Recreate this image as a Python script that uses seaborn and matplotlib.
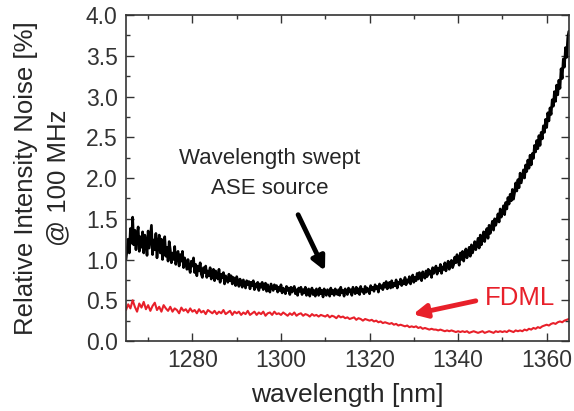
import matplotlib
matplotlib.use("Agg")
import matplotlib.pyplot as plt
from matplotlib.ticker import MultipleLocator, FormatStrFormatter
import seaborn as sns
import numpy as np
import pandas as pd

# wavelength grids [nm]
wl_ase = np.arange(1265.0, 1365.001, 0.25)
wl_fdml = np.arange(1265.0, 1365.001, 0.5)

# relative intensity noise [%] (ASE, 0.25 nm steps)
rin_ase = [
    1.00, 1.12, 1.25, 1.08, 1.38, 1.20, 1.52, 1.18,
    1.36, 1.12, 1.30, 1.40, 1.10, 1.28, 1.15, 1.34,
    1.08, 1.30, 1.22, 1.05, 1.35, 1.14, 1.28, 1.42,
    1.06, 1.24, 1.12, 1.32, 1.02, 1.20, 1.30, 1.08,
    1.25, 1.00, 1.18, 1.28, 1.04, 1.15, 0.98, 1.22,
    1.12, 0.96, 1.08, 1.00, 1.16, 0.94, 1.05, 1.10,
    0.92, 1.06, 0.98, 1.10, 0.90, 1.02, 0.95, 0.88,
    1.00, 0.90, 0.84, 0.98, 0.92, 1.02, 0.84, 0.94,
    0.80, 0.92, 0.86, 0.96, 0.82, 0.78, 0.90, 0.84,
    0.92, 0.78, 0.86, 0.80, 0.90, 0.76, 0.84, 0.88,
    0.74, 0.86, 0.80, 0.76, 0.88, 0.72, 0.82, 0.78,
    0.84, 0.70, 0.80, 0.76, 0.72, 0.82, 0.74, 0.80,
    0.70, 0.78, 0.72, 0.68, 0.79, 0.74, 0.67, 0.76,
    0.72, 0.66, 0.75, 0.70, 0.65, 0.74, 0.69, 0.73,
    0.64, 0.72, 0.68, 0.74, 0.63, 0.70, 0.66, 0.72,
    0.62, 0.70, 0.66, 0.72, 0.63, 0.68, 0.71, 0.61,
    0.69, 0.64, 0.60, 0.70, 0.66, 0.62, 0.69, 0.64,
    0.68, 0.60, 0.66, 0.62, 0.69, 0.59, 0.65, 0.63,
    0.58, 0.67, 0.62, 0.65, 0.57, 0.66, 0.60, 0.64,
    0.67, 0.58, 0.63, 0.56, 0.65, 0.61, 0.66, 0.57,
    0.63, 0.59, 0.66, 0.56, 0.62, 0.64, 0.55, 0.61,
    0.65, 0.57, 0.62, 0.55, 0.64, 0.60, 0.56, 0.65,
    0.58, 0.62, 0.54, 0.64, 0.59, 0.56, 0.63, 0.60,
    0.55, 0.65, 0.58, 0.62, 0.56, 0.64, 0.60, 0.57,
    0.63, 0.56, 0.66, 0.59, 0.62, 0.55, 0.64, 0.61,
    0.57, 0.65, 0.60, 0.63, 0.56, 0.66, 0.62, 0.58,
    0.66, 0.59, 0.64, 0.57, 0.67, 0.61, 0.63, 0.58,
    0.67, 0.60, 0.65, 0.62, 0.58, 0.68, 0.63, 0.66,
    0.61, 0.69, 0.64, 0.67, 0.60, 0.70, 0.65, 0.68,
    0.63, 0.71, 0.66, 0.73, 0.64, 0.69, 0.72, 0.65,
    0.74, 0.66, 0.71, 0.68, 0.75, 0.65, 0.72, 0.70,
    0.76, 0.68, 0.74, 0.70, 0.78, 0.69, 0.75, 0.72,
    0.79, 0.70, 0.76, 0.81, 0.72, 0.78, 0.74, 0.83,
    0.76, 0.84, 0.78, 0.74, 0.85, 0.80, 0.77, 0.86,
    0.79, 0.88, 0.82, 0.86, 0.78, 0.90, 0.83, 0.87,
    0.92, 0.82, 0.89, 0.86, 0.94, 0.83, 0.91, 0.88,
    0.96, 0.86, 0.93, 0.98, 0.88, 0.95, 0.99, 0.90,
    0.94, 1.03, 0.96, 1.06, 0.98, 0.93, 1.08, 1.00,
    1.10, 0.98, 1.06, 1.13, 1.02, 1.08, 1.15, 1.04,
    1.18, 1.08, 1.14, 1.22, 1.12, 1.19, 1.26, 1.14,
    1.30, 1.18, 1.27, 1.34, 1.22, 1.33, 1.38, 1.26,
    1.42, 1.32, 1.40, 1.47, 1.36, 1.50, 1.42, 1.48,
    1.56, 1.46, 1.62, 1.52, 1.58, 1.66, 1.55, 1.70,
    1.62, 1.76, 1.68, 1.80, 1.72, 1.86, 1.74, 1.82,
    1.94, 1.84, 1.98, 1.88, 2.06, 1.94, 2.02, 2.10,
    2.00, 2.16, 2.08, 2.22, 2.12, 2.28, 2.16, 2.30,
    2.24, 2.40, 2.32, 2.46, 2.36, 2.52, 2.40, 2.56,
    2.48, 2.64, 2.56, 2.72, 2.62, 2.80, 2.70, 2.86,
    2.78, 2.96, 2.88, 3.06, 2.94, 3.14, 3.02, 3.20,
    3.10, 3.34, 3.22, 3.46, 3.36, 3.60, 3.48, 3.72,
    3.80,
]

# FDML, 0.5 nm steps
rin_fdml = [
    0.38, 0.45, 0.40, 0.50, 0.42, 0.36, 0.46, 0.41, 0.48, 0.39,
    0.44, 0.37, 0.43, 0.47, 0.38, 0.42, 0.36, 0.44, 0.40, 0.37,
    0.42, 0.36, 0.40, 0.38, 0.34, 0.41, 0.37, 0.39, 0.35, 0.40,
    0.36, 0.38, 0.34, 0.39, 0.35, 0.37, 0.33, 0.38, 0.36, 0.34,
    0.37, 0.33, 0.36, 0.34, 0.38, 0.33, 0.35, 0.37, 0.32, 0.36,
    0.34, 0.36, 0.32, 0.35, 0.33, 0.37, 0.32, 0.34, 0.36, 0.32,
    0.35, 0.33, 0.36, 0.31, 0.34, 0.35, 0.32, 0.36, 0.33, 0.34,
    0.32, 0.35, 0.33, 0.31, 0.34, 0.32, 0.35, 0.31, 0.33, 0.34,
    0.31, 0.33, 0.32, 0.30, 0.33, 0.31, 0.32, 0.30, 0.32, 0.31,
    0.30, 0.32, 0.29, 0.31, 0.30, 0.28, 0.31, 0.29, 0.30, 0.28,
    0.29, 0.27, 0.28, 0.29, 0.26, 0.28, 0.27, 0.25, 0.27, 0.26,
    0.25, 0.26, 0.24, 0.25, 0.23, 0.24, 0.22, 0.23, 0.22, 0.21,
    0.22, 0.20, 0.21, 0.19, 0.20, 0.19, 0.18, 0.19, 0.17, 0.18,
    0.17, 0.18, 0.16, 0.17, 0.15, 0.16, 0.15, 0.14, 0.15, 0.14,
    0.14, 0.13, 0.14, 0.13, 0.12, 0.13, 0.12, 0.13, 0.12, 0.11,
    0.12, 0.11, 0.12, 0.11, 0.12, 0.10, 0.11, 0.12, 0.11, 0.10,
    0.11, 0.12, 0.10, 0.11, 0.12, 0.11, 0.10, 0.12, 0.11, 0.12,
    0.11, 0.12, 0.11, 0.13, 0.12, 0.11, 0.13, 0.12, 0.13, 0.12,
    0.14, 0.13, 0.15, 0.14, 0.16, 0.15, 0.17, 0.16, 0.18, 0.19,
    0.20, 0.19, 0.21, 0.22, 0.21, 0.23, 0.24, 0.23, 0.25, 0.26,
    0.27,
]

df_ase = pd.DataFrame({"wavelength": wl_ase, "rin": rin_ase})
df_fdml = pd.DataFrame({"wavelength": wl_fdml, "rin": rin_fdml})

sns.set_style("ticks")
plt.rcParams["font.family"] = ["Liberation Sans", "DejaVu Sans"]
plt.rcParams["xtick.direction"] = "in"
plt.rcParams["ytick.direction"] = "in"

fig = plt.figure(figsize=(5.74, 4.11), dpi=100)
ax = fig.add_axes([0.2195, 0.1703, 0.7715, 0.7932])

red = "#e8202a"
sns.lineplot(data=df_fdml, x="wavelength", y="rin", color=red, lw=1.5,
             estimator=None, ax=ax)
sns.lineplot(data=df_ase, x="wavelength", y="rin", color="black", lw=1.9,
             estimator=None, ax=ax)

ax.set_xlim(1265, 1365)
ax.set_ylim(0, 4.0)
ax.xaxis.set_major_locator(MultipleLocator(20))
ax.xaxis.set_minor_locator(MultipleLocator(10))
ax.yaxis.set_major_locator(MultipleLocator(0.5))
ax.yaxis.set_minor_locator(MultipleLocator(0.25))
ax.yaxis.set_major_formatter(FormatStrFormatter("%.1f"))
ax.tick_params(which="both", top=True, right=True, labelsize=16.5, colors="#333333")
ax.tick_params(which="major", length=6, width=1.0, pad=6)
ax.tick_params(which="minor", length=3, width=1.0)
for s in ax.spines.values():
    s.set_linewidth(1.2)
    s.set_color("#333333")

ax.set_xlabel("wavelength [nm]", fontsize=19, labelpad=8)
ax.set_ylabel("Relative Intensity Noise [%]\n@ 100 MHz", fontsize=18.5, labelpad=11,
              linespacing=1.45)

ax.text(1297.5, 2.06, "Wavelength swept\nASE source", ha="center", va="center",
        fontsize=16, linespacing=1.55)
ax.annotate("", xy=(1310.2, 0.83), xytext=(1303.6, 1.58),
            arrowprops=dict(arrowstyle="-|>,head_length=0.8,head_width=0.4",
                            color="black", lw=3.5))
ax.text(1346.1, 0.53, "FDML", color=red, ha="left", va="center", fontsize=18.5)
ax.annotate("", xy=(1329.2, 0.32), xytext=(1344.6, 0.50),
            arrowprops=dict(arrowstyle="-|>,head_length=0.8,head_width=0.4",
                            color=red, lw=3.5))

fig.savefig("out.png", dpi=100)
